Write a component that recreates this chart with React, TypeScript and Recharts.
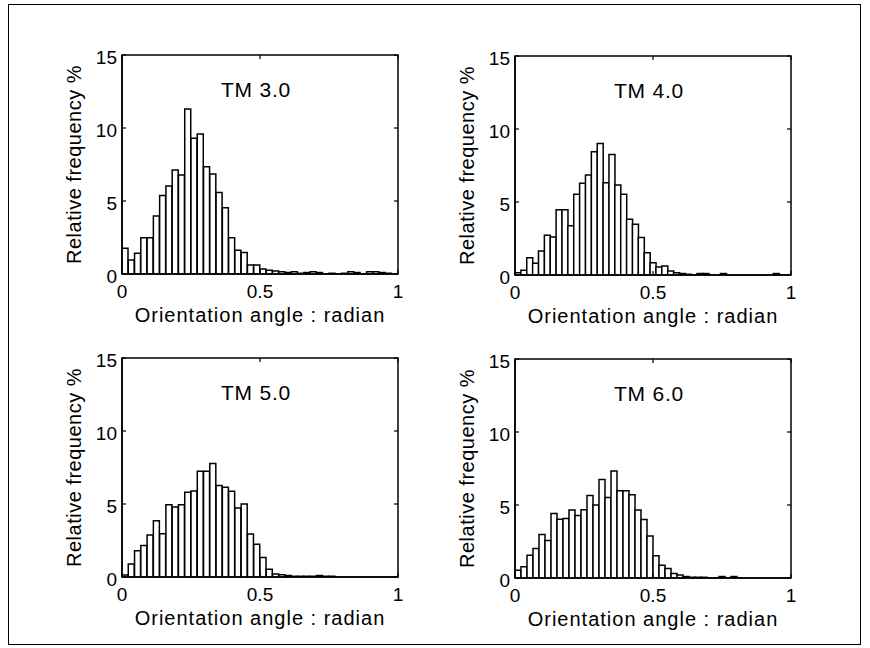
import { BarChart, Bar, XAxis, YAxis, ReferenceArea, Label } from 'recharts'

// relative frequency (%) per bin, read left to right from 0 rad
const tm3Freq = [
  1.76, 0.96, 1.42, 2.49, 2.49, 3.97, 5.37, 6.03, 7.12, 6.78, 11.3, 9.29, 9.59, 7.35, 6.85,
  5.59, 4.54, 2.49, 1.62, 1.48, 0.62, 0.62, 0.34, 0.25, 0.2, 0.15, 0.1, 0.15, 0.05, 0.1,
  0.15, 0.1, 0, 0.05, 0, 0.05, 0.15, 0.1, 0, 0.15, 0.15, 0.1, 0.05, 0,
]
const tm4Freq = [
  0.16, 0.32, 1.19, 0.8, 1.64, 2.72, 2.6, 4.47, 4.47, 3.38, 5.53, 6.28, 6.85, 8.45, 9.0,
  6.32, 8.26, 6.16, 5.53, 3.81, 3.47, 2.56, 1.53, 0.84, 0.55, 0.62, 0.27, 0.15, 0.1, 0.05,
  0, 0.1, 0.1, 0, 0, 0.1, 0, 0, 0, 0, 0, 0, 0, 0, 0.1, 0, 0,
]
const tm5Freq = [
  0.14, 0.89, 1.79, 2.16, 2.87, 3.85, 2.96, 4.95, 4.79, 4.95, 5.8, 5.89, 7.25, 7.25, 7.78,
  6.26, 6.15, 5.87, 4.72, 5.0, 2.94, 2.25, 1.33, 0.53, 0.21, 0.15, 0.1, 0.05, 0.05, 0.05,
  0.05, 0.1, 0.05, 0.05, 0, 0, 0, 0, 0, 0, 0, 0, 0, 0,
]
const tm6Freq = [
  0.53, 0.77, 1.56, 2.02, 2.98, 2.56, 4.42, 4.02, 4.07, 4.65, 4.28, 4.67, 5.65, 5.0, 6.74,
  5.51, 7.33, 5.98, 5.98, 5.7, 4.65, 4.0, 2.88, 1.53, 0.88, 0.65, 0.3, 0.2, 0.1, 0.05,
  0.05, 0.05, 0, 0, 0.1, 0, 0.1, 0, 0, 0, 0, 0, 0, 0, 0, 0,
]

const titles = ['TM 3.0', 'TM 4.0', 'TM 5.0', 'TM 6.0']
const xTicks = [0, 0.5, 1]
const yTicks = [0, 5, 10, 15]

const FONT = "'Liberation Sans', Arial, Helvetica, sans-serif"
const PW = 276 // plot box width
const PH = 219 // plot box height
const YW = 50
const XH = 52
const M = { top: 40, left: 40, right: 30, bottom: 19 }
const CW = M.left + YW + PW + M.right
const CH = M.top + PH + XH + M.bottom

const panels = [
  { title: titles[0], freq: tm3Freq, left: 122, top: 55 },
  { title: titles[1], freq: tm4Freq, left: 515, top: 56 },
  { title: titles[2], freq: tm5Freq, left: 122, top: 358 },
  { title: titles[3], freq: tm6Freq, left: 515, top: 359 },
]

function XTick({ x, y, payload }: any) {
  return (
    <g>
      <line x1={x} y1={y} x2={x} y2={y - 4} stroke="#000" strokeWidth={1.2} />
      <line x1={x} y1={y - PH} x2={x} y2={y - PH + 4} stroke="#000" strokeWidth={1.2} />
      <text x={x} y={y + 24} textAnchor="middle" fontSize={19} fontFamily={FONT} fill="#000">
        {payload.value}
      </text>
    </g>
  )
}

function YTick({ x, y, payload }: any) {
  return (
    <g>
      <line x1={x} y1={y} x2={x + 4} y2={y} stroke="#000" strokeWidth={1.2} />
      <line x1={x + PW} y1={y} x2={x + PW - 4} y2={y} stroke="#000" strokeWidth={1.2} />
      <text x={x - 5} y={y + 2} textAnchor="end" dominantBaseline="central" fontSize={19} fontFamily={FONT} fill="#000">
        {payload.value}
      </text>
    </g>
  )
}

function Panel({ title, freq, left, top }: any) {
  const data = freq.map((v: number, i: number) => ({ x: (i + 0.5) / freq.length, freq: v }))
  return (
    <div style={{ position: 'absolute', left: left - M.left - YW, top: top - M.top }}>
      <BarChart width={CW} height={CH} data={data} margin={M} barCategoryGap={0} barGap={0}>
        <XAxis
          dataKey="x"
          type="number"
          domain={[0, 1]}
          ticks={xTicks}
          interval={0}
          height={XH}
          tickSize={0}
          tickMargin={0}
          tickLine={false}
          tick={<XTick />}
          axisLine={{ stroke: '#000', strokeWidth: 1.5 }}
        >
          <Label
            content={({ viewBox }: any) => (
              <text
                x={viewBox.x + viewBox.width / 2}
                y={viewBox.y + 48}
                textAnchor="middle"
                fontSize={20}
                fontFamily={FONT}
                letterSpacing={1}
                fill="#000"
              >
                Orientation angle : radian
              </text>
            )}
          />
        </XAxis>
        <YAxis
          type="number"
          domain={[0, 15]}
          ticks={yTicks}
          interval={0}
          width={YW}
          tickSize={0}
          tickMargin={0}
          tickLine={false}
          tick={<YTick />}
          axisLine={{ stroke: '#000', strokeWidth: 1.5 }}
          allowDataOverflow
        >
          <Label
            content={({ viewBox }: any) => {
              const cx = viewBox.x + viewBox.width - 48
              const cy = viewBox.y + viewBox.height / 2
              return (
                <text
                  x={cx}
                  y={cy}
                  transform={`rotate(-90, ${cx}, ${cy})`}
                  textAnchor="middle"
                  dominantBaseline="central"
                  fontSize={20}
                  fontFamily={FONT}
                  letterSpacing={0.5}
                  fill="#000"
                >
                  Relative frequency %
                </text>
              )
            }}
          />
        </YAxis>
        <Bar dataKey="freq" fill="#fff" stroke="#000" strokeWidth={1.5} isAnimationActive={false} />
        <ReferenceArea x1={0} x2={1} y1={0} y2={15} fill="none" fillOpacity={0} stroke="#000" strokeWidth={1.5}>
          <Label
            content={({ viewBox }: any) => (
              <text
                x={viewBox.x + viewBox.width / 2 - 4}
                y={viewBox.y + 42}
                textAnchor="middle"
                fontSize={21}
                fontFamily={FONT}
                letterSpacing={0.8}
                fill="#000"
              >
                {title}
              </text>
            )}
          />
        </ReferenceArea>
      </BarChart>
    </div>
  )
}

export default function App() {
  return (
    <div style={{ position: 'absolute', left: 0, top: 0, width: 870, height: 648, background: '#fff' }}>
      <div
        style={{
          position: 'absolute',
          left: 8,
          top: 4,
          width: 853,
          height: 641,
          border: '1px solid #000',
          boxSizing: 'border-box',
        }}
      />
      {panels.map((p) => (
        <Panel key={p.title} {...p} />
      ))}
    </div>
  )
}
